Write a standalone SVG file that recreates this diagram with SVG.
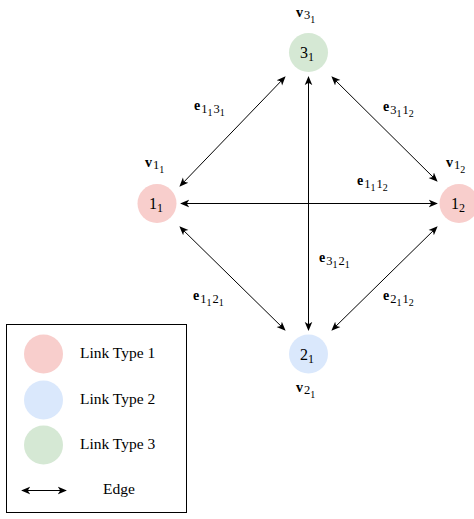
<svg xmlns="http://www.w3.org/2000/svg" width="474" height="519" viewBox="0 0 474 519">
<style>
text{font-family:"Liberation Serif","DejaVu Serif",serif;fill:#000}
.b{font-weight:bold}
.nd{font-size:16px}
.ns{font-size:12px}
.lb{font-size:14px}
.l1{font-size:12.5px}
.l2{font-size:10px}
.lg{font-size:15.5px}
.c1{fill:#f8cecc}
.c2{fill:#dae8fc}
.c3{fill:#d5e8d4}
.e{stroke:#000;stroke-width:1;fill:none;marker-start:url(#ah);marker-end:url(#ah)}
</style>
<defs>
<marker id="ah" viewBox="0 0 10 10" refX="9" refY="5" markerWidth="9" markerHeight="9" markerUnits="userSpaceOnUse" orient="auto-start-reverse">
<path d="M0,0.8 L10,5 L0,9.2 L2.6,5 Z" fill="#000"/>
</marker>
</defs>
<rect width="474" height="519" fill="#fff"/>
<g id="connectors">
<line class="e" x1="180" y1="186" x2="285" y2="77"/>
<line class="e" x1="332" y1="77" x2="437" y2="181"/>
<line class="e" x1="181" y1="203.5" x2="437" y2="203.5"/>
<line class="e" x1="308.5" y1="77" x2="308.5" y2="330"/>
<line class="e" x1="180" y1="227" x2="285" y2="330"/>
<line class="e" x1="332" y1="330" x2="437" y2="227"/>
</g>
<g id="edge-labels">
<text x="194" y="110"><tspan class="b lb">e</tspan><tspan class="l1" dx="1" dy="2.5">1</tspan><tspan class="l2" dy="3.5">1</tspan><tspan class="l1" dx="1" dy="-3.5">3</tspan><tspan class="l2" dy="3.5">1</tspan></text>
<text x="383" y="111"><tspan class="b lb">e</tspan><tspan class="l1" dx="1" dy="2.5">3</tspan><tspan class="l2" dy="3.5">1</tspan><tspan class="l1" dx="1" dy="-3.5">1</tspan><tspan class="l2" dy="3.5">2</tspan></text>
<text x="357" y="185"><tspan class="b lb">e</tspan><tspan class="l1" dx="1" dy="2.5">1</tspan><tspan class="l2" dy="3.5">1</tspan><tspan class="l1" dx="1" dy="-3.5">1</tspan><tspan class="l2" dy="3.5">2</tspan></text>
<text x="319" y="262"><tspan class="b lb">e</tspan><tspan class="l1" dx="1" dy="2.5">3</tspan><tspan class="l2" dy="3.5">1</tspan><tspan class="l1" dx="1" dy="-3.5">2</tspan><tspan class="l2" dy="3.5">1</tspan></text>
<text x="193" y="300"><tspan class="b lb">e</tspan><tspan class="l1" dx="1" dy="2.5">1</tspan><tspan class="l2" dy="3.5">1</tspan><tspan class="l1" dx="1" dy="-3.5">2</tspan><tspan class="l2" dy="3.5">1</tspan></text>
<text x="383" y="300"><tspan class="b lb">e</tspan><tspan class="l1" dx="1" dy="2.5">2</tspan><tspan class="l2" dy="3.5">1</tspan><tspan class="l1" dx="1" dy="-3.5">1</tspan><tspan class="l2" dy="3.5">2</tspan></text>
</g>
<g id="node-3_1">
<circle class="c3" cx="308.5" cy="52.5" r="19.5"/>
<text x="300" y="58"><tspan class="nd">3</tspan><tspan class="ns" dy="3">1</tspan></text>
<text x="296" y="17"><tspan class="b lb">v</tspan><tspan class="l1" dx="1" dy="2">3</tspan><tspan class="l2" dy="4">1</tspan></text>
</g>
<g id="node-1_1">
<circle class="c1" cx="157" cy="203.5" r="19.5"/>
<text x="149" y="209"><tspan class="nd">1</tspan><tspan class="ns" dy="3">1</tspan></text>
<text x="145" y="167"><tspan class="b lb">v</tspan><tspan class="l1" dx="1" dy="2">1</tspan><tspan class="l2" dy="4">1</tspan></text>
</g>
<g id="node-1_2">
<circle class="c1" cx="459" cy="203.5" r="19.5"/>
<text x="451" y="209"><tspan class="nd">1</tspan><tspan class="ns" dy="3">2</tspan></text>
<text x="446" y="167"><tspan class="b lb">v</tspan><tspan class="l1" dx="1" dy="2">1</tspan><tspan class="l2" dy="4">2</tspan></text>
</g>
<g id="node-2_1">
<circle class="c2" cx="308.5" cy="354" r="19.5"/>
<text x="300" y="360"><tspan class="nd">2</tspan><tspan class="ns" dy="3">1</tspan></text>
<text x="296" y="392"><tspan class="b lb">v</tspan><tspan class="l1" dx="1" dy="2">2</tspan><tspan class="l2" dy="4">1</tspan></text>
</g>
<g id="legend">
<rect x="6.5" y="324.5" width="180" height="188" fill="#fff" stroke="#000" stroke-width="1"/>
<circle class="c1" cx="43.5" cy="354" r="19.5"/>
<circle class="c2" cx="43.5" cy="400" r="19.5"/>
<circle class="c3" cx="43.5" cy="445" r="19.5"/>
<text class="lg" x="80" y="358">Link Type 1</text>
<text class="lg" x="80" y="404">Link Type 2</text>
<text class="lg" x="80" y="449">Link Type 3</text>
<line class="e" x1="22" y1="490.5" x2="66" y2="490.5"/>
<text class="lg" x="103" y="494">Edge</text>
</g>
</svg>
